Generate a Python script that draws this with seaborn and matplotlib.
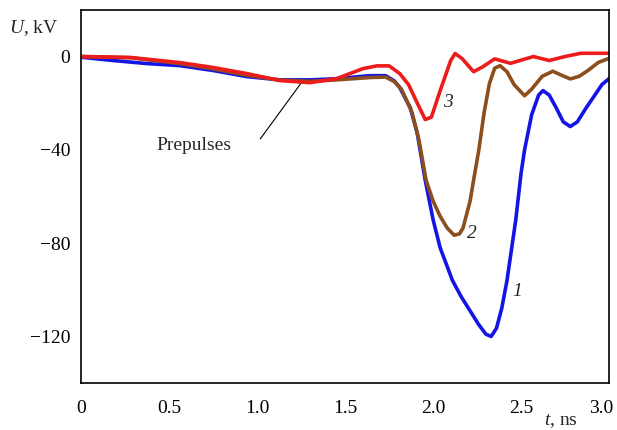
import matplotlib
matplotlib.use("Agg")
import matplotlib.pyplot as plt
import matplotlib.transforms as mtransforms
import seaborn as sns

# curve 1 (blue)
t1 = [0.0, 0.18, 0.37, 0.56, 0.75, 0.94, 1.13, 1.3, 1.45, 1.64, 1.73, 1.78,
      1.81, 1.87, 1.91, 1.955, 2.0, 2.04, 2.11, 2.16, 2.21, 2.26, 2.3, 2.33,
      2.36, 2.39, 2.42, 2.47, 2.5, 2.52, 2.56, 2.6, 2.625, 2.66, 2.7, 2.74,
      2.78, 2.82, 2.87, 2.92, 2.96, 3.0]
u1 = [-0.3, -1.7, -3.0, -3.9, -6.0, -8.6, -10.0, -10.0, -9.5, -8.2, -8.2, -10.5,
      -13.3, -21.9, -33, -53, -70, -82, -96, -103, -109, -115, -119, -120,
      -116.5, -108, -96, -70, -50, -40, -25, -16.5, -14.6, -16.5, -22, -28,
      -30, -28, -22, -16.5, -12, -9.5]

# curve 2 (brown)
t2 = [0.0, 0.28, 0.56, 0.75, 0.94, 1.13, 1.3, 1.45, 1.64, 1.73, 1.78, 1.82,
      1.88, 1.92, 1.96, 2.0, 2.04, 2.08, 2.12, 2.15, 2.17, 2.21, 2.23, 2.26,
      2.29, 2.32, 2.35, 2.38, 2.42, 2.46, 2.52, 2.56, 2.62, 2.68, 2.73, 2.78,
      2.83, 2.88, 2.94, 3.0]
u2 = [0.0, -0.5, -3.0, -5.3, -8.0, -10.1, -10.6, -10.0, -9.0, -8.8, -10.8, -14,
      -24, -36, -53, -62, -68.5, -73.5, -76.6, -76, -73.5, -62, -53, -40,
      -24, -11.6, -5, -3.9, -6.5, -12, -16.8, -14, -8.5, -6.3, -8, -9.6,
      -8.5, -6, -2.5, -0.8]

# curve 3 (red)
t3 = [0.0, 0.28, 0.56, 0.75, 0.94, 1.13, 1.3, 1.45, 1.6, 1.68, 1.75, 1.81,
      1.86, 1.91, 1.955, 1.99, 2.04, 2.1, 2.125, 2.165, 2.23, 2.28, 2.35,
      2.44, 2.57, 2.66, 2.75, 2.84, 3.0]
u3 = [0.0, -0.4, -2.6, -4.7, -7.3, -10.3, -11.2, -9.5, -5.2, -4.0, -4.0, -7.3,
      -12, -20, -27, -26, -14.6, -1.7, 1.3, -0.9, -6.5, -4.5, -1.0,
      -2.9, 0.0, -1.7, 0.0, 1.4, 1.4]

xticks = [0, 0.5, 1.0, 1.5, 2.0, 2.5, 3.0]
xtick_labels = ["0", "0.5", "1.0", "1.5", "2.0", "2.5", "3.0"]
yticks = [0, -40, -80, -120]
ytick_labels = ["0", "\u221240", "\u221280", "\u2212120"]

sns.set_style("white")
plt.rcParams["font.family"] = ["Liberation Serif", "DejaVu Serif"]
plt.rcParams["mathtext.fontset"] = "custom"
plt.rcParams["mathtext.rm"] = "Liberation Serif"
plt.rcParams["mathtext.it"] = "Liberation Serif:italic"

fig = plt.figure(figsize=(6.17, 4.30), dpi=100)
ax = fig.add_axes([0.132, 0.109, 0.855, 0.868])

sns.lineplot(x=t1, y=u1, color="#1414e6", lw=2.6, sort=False, estimator=None, ax=ax)
sns.lineplot(x=t2, y=u2, color="#8b4e1c", lw=2.6, sort=False, estimator=None, ax=ax)
sns.lineplot(x=t3, y=u3, color="#ec1c1c", lw=2.6, sort=False, estimator=None, ax=ax)

ax.set_xlim(0, 3.0)
ax.set_ylim(-140, 20)
ax.set_xticks(xticks)
ax.set_xticklabels(xtick_labels)
ax.set_yticks(yticks)
ax.set_yticklabels(ytick_labels)
ax.tick_params(direction="in", length=7, width=1, labelsize=14, colors="black")
ax.tick_params(axis="x", pad=12)
ax.tick_params(axis="y", pad=8)
for s in ax.spines.values():
    s.set_color("black")
    s.set_linewidth(1.2)

# last x label sits a little to the left, as in the original
last = ax.get_xticklabels()[-1]
last.set_transform(last.get_transform() +
                   mtransforms.ScaledTranslation(-8 / 100, 0, fig.dpi_scale_trans))

ax.text(2.085, -19.8, "3", fontsize=14, style="italic", ha="center", va="center")
ax.text(2.22, -75.7, "2", fontsize=14, style="italic", ha="center", va="center")
ax.text(2.48, -100.6, "1", fontsize=14, style="italic", ha="center", va="center")

ax.text(0.64, -38.3, "Prepulses", fontsize=14, ha="center", va="center")
ax.annotate("", xy=(1.245, -11.8), xytext=(1.017, -35.3),
            arrowprops=dict(arrowstyle="-", color="black", lw=0.8,
                            shrinkA=0, shrinkB=0))

fig.text(0.055, 0.935, r"$U$, kV", fontsize=14, ha="center", va="center")
fig.text(0.909, 0.021, r"$t$, ns", fontsize=14, ha="center", va="center")

fig.savefig("out.png", dpi=100)
